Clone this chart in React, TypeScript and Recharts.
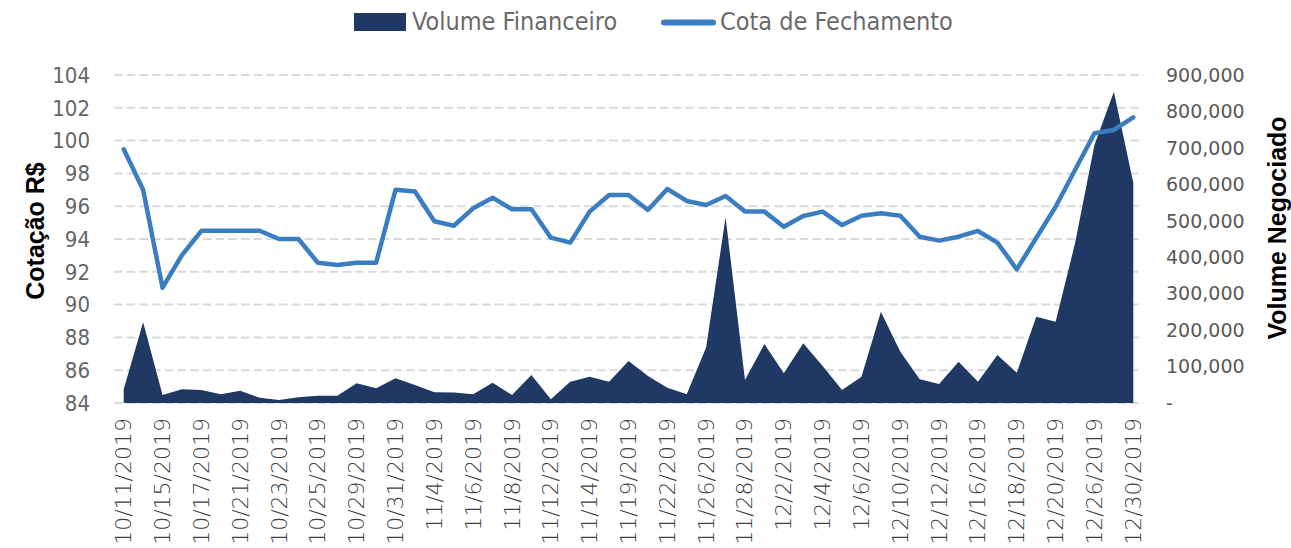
import React from 'react';
import { ComposedChart, Area, Line, XAxis, YAxis, CartesianGrid, Legend } from 'recharts';

const dates = ['10/11/2019','10/14/2019','10/15/2019','10/16/2019','10/17/2019','10/18/2019','10/21/2019','10/22/2019','10/23/2019','10/24/2019','10/25/2019','10/28/2019','10/29/2019','10/30/2019','10/31/2019','11/1/2019','11/4/2019','11/5/2019','11/6/2019','11/7/2019','11/8/2019','11/11/2019','11/12/2019','11/13/2019','11/14/2019','11/18/2019','11/19/2019','11/21/2019','11/22/2019','11/25/2019','11/26/2019','11/27/2019','11/28/2019','11/29/2019','12/2/2019','12/3/2019','12/4/2019','12/5/2019','12/6/2019','12/9/2019','12/10/2019','12/11/2019','12/12/2019','12/13/2019','12/16/2019','12/17/2019','12/18/2019','12/19/2019','12/20/2019','12/23/2019','12/26/2019','12/27/2019','12/30/2019'];

const cotaFechamento = [99.47, 97.0, 91.03, 93.02, 94.5, 94.5, 94.5, 94.5, 94.0, 94.0, 92.55, 92.41, 92.55, 92.55, 97.0, 96.9, 95.08, 94.81, 95.87, 96.52, 95.81, 95.81, 94.08, 93.78, 95.67, 96.68, 96.68, 95.77, 97.05, 96.32, 96.07, 96.62, 95.67, 95.67, 94.75, 95.4, 95.67, 94.85, 95.42, 95.57, 95.42, 94.14, 93.9, 94.14, 94.49, 93.78, 92.15, 94.06, 95.97, 98.21, 100.45, 100.65, 101.42];

const volumeFinanceiro = [37600, 221400, 22000, 37600, 35700, 23800, 33800, 14600, 8200, 15500, 20100, 20100, 54000, 40200, 67700, 49400, 29300, 29000, 23800, 55800, 22000, 76800, 10100, 58500, 72200, 58500, 115200, 74100, 42000, 23800, 152800, 509500, 63100, 161900, 81500, 163800, 101500, 35700, 72200, 250500, 140800, 65000, 52100, 113300, 58500, 131700, 83200, 236800, 223100, 438200, 707900, 854200, 604500];

const leftTicks = [84, 86, 88, 90, 92, 94, 96, 98, 100, 102, 104];
const rightTicks = [0, 100000, 200000, 300000, 400000, 500000, 600000, 700000, 800000, 900000];

const data = dates.map((d, i) => ({ date: d, cota: cotaFechamento[i], volume: volumeFinanceiro[i] }));

const NAVY = '#1F3864';
const BLUE = '#3A7EC1';
const GREY = '#595959';
const FONT_COND = "'DejaVu Sans Condensed', 'DejaVu Sans', sans-serif";
const FONT = "'DejaVu Sans', sans-serif";
const FONT_BOLD = "'Liberation Sans', Arial, sans-serif";

const XTick = (props: any) => {
  const { x, y, payload } = props;
  return (
    <text x={x} y={y} transform={`rotate(-90, ${x}, ${y})`} textAnchor="end" dominantBaseline="central" fill="#404040" fontSize={22} fontWeight={200} fontFamily={FONT}>
      {payload.value}
    </text>
  );
};

const LegendContent = () => (
  <svg width={1291} height={75} style={{ display: 'block' }}>
    <rect x={354} y={13} width={52} height={18} fill={NAVY} />
    <text x={412} y={30} fontSize={25} fill="#6a6a6a" fontFamily={FONT_COND}>Volume Financeiro</text>
    <line x1={664} y1={22.5} x2={713} y2={22.5} stroke={BLUE} strokeWidth={6} strokeLinecap="round" />
    <text x={720} y={30} fontSize={25} fill="#6a6a6a" fontFamily={FONT_COND}>Cota de Fechamento</text>
  </svg>
);

const leftLabel = (props: any) => {
  const vb = props.viewBox || { x: 0, y: 75, width: 114, height: 328 };
  const cx = vb.x + 35;
  const cy = vb.y + vb.height / 2 - 8;
  return (
    <text x={cx} y={cy} transform={`rotate(-90, ${cx}, ${cy})`} textAnchor="middle" dominantBaseline="central" fontSize={25} fontWeight="bold" fill="#000" fontFamily={FONT_BOLD}>
      Cotação R$
    </text>
  );
};

const rightLabel = (props: any) => {
  const vb = props.viewBox || { x: 1143, y: 75, width: 148, height: 328 };
  const cx = vb.x + 134;
  const cy = vb.y + vb.height / 2 - 11;
  return (
    <text x={cx} y={cy} transform={`rotate(-90, ${cx}, ${cy})`} textAnchor="middle" dominantBaseline="central" fontSize={25} fontWeight="bold" fill="#000" fontFamily={FONT_BOLD}>
      Volume Negociado
    </text>
  );
};

const fmtRight = (v: number) => (v === 0 ? '-' : v.toLocaleString('en-US'));

export default function App() {
  return (
    <div style={{ position: 'absolute', left: 0, top: 0, width: 1291, height: 548, background: '#fff' }}>
      <ComposedChart width={1291} height={548} data={data} margin={{ top: 0, right: 0, bottom: 0, left: 0 }}>
        <Legend verticalAlign="top" align="left" content={<LegendContent />} wrapperStyle={{ top: 0, left: 0, width: 1291, height: 75 }} />
        <CartesianGrid yAxisId="left" vertical={false} stroke="#D9D9D9" strokeWidth={2} strokeDasharray="8.5 4.2" />
        <XAxis dataKey="date" interval={1} height={145} tickLine={false} axisLine={false} tickSize={0} tickMargin={15} padding={{ left: 9.71, right: 9.71 }} tick={<XTick />} />
        <YAxis yAxisId="left" orientation="left" width={114} domain={[84, 104]} ticks={leftTicks} axisLine={false} tickLine={false} tickSize={0} tickMargin={24} tick={{ fill: '#666666', fontSize: 22, fontFamily: FONT_COND }} label={leftLabel} />
        <YAxis yAxisId="right" orientation="right" width={148} domain={[0, 900000]} ticks={rightTicks} axisLine={false} tickLine={false} tickSize={0} tickMargin={23} tickFormatter={fmtRight} tick={{ fill: GREY, fontSize: 19, fontFamily: FONT, textAnchor: 'start' }} label={rightLabel} />
        <Area yAxisId="right" type="linear" dataKey="volume" name="Volume Financeiro" fill={NAVY} fillOpacity={1} stroke="none" isAnimationActive={false} />
        <Line yAxisId="left" type="linear" dataKey="cota" name="Cota de Fechamento" stroke={BLUE} strokeWidth={4.5} strokeLinecap="round" strokeLinejoin="round" dot={false} isAnimationActive={false} />
      </ComposedChart>
    </div>
  );
}
